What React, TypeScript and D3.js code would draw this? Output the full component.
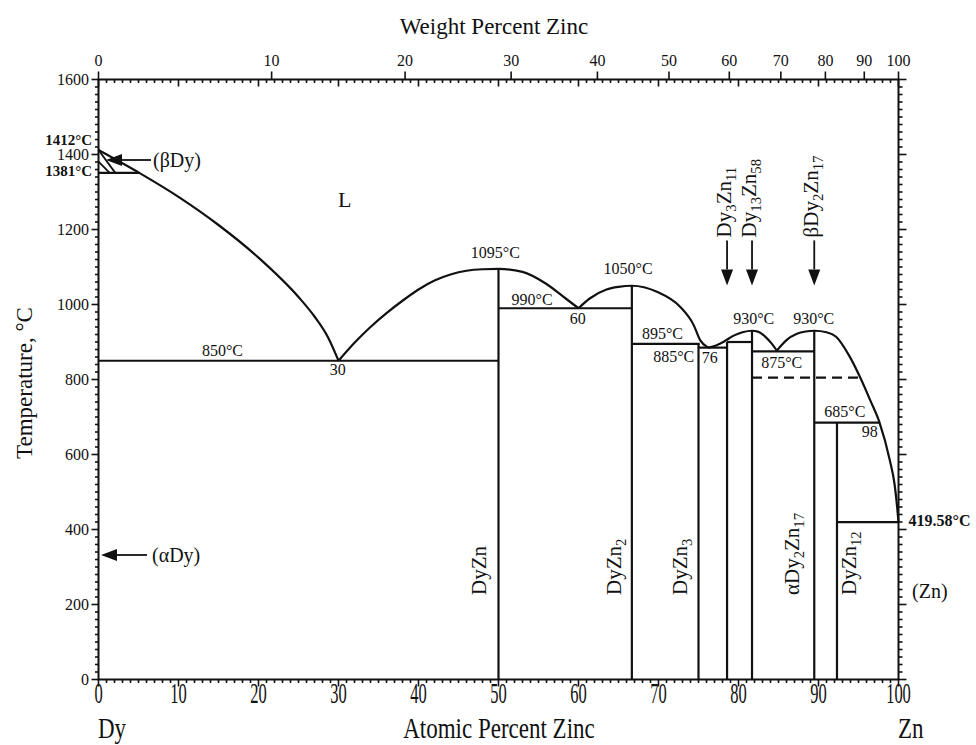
import React, { useEffect, useRef } from "react";
import * as d3 from "d3";

const W = 976;
const H = 745;
const FONT = "'Liberation Serif', 'Times New Roman', serif";

// liquidus pieces, [at.% Zn, °C]
const liqDy = [[0, 1412], [5.1, 1351], [10, 1287], [15, 1212], [20, 1125], [25, 1020], [27, 968], [28.7, 912], [30, 850]];
const liqDyZn = [[30, 850], [32, 898], [34, 940], [36, 977], [38, 1010], [40, 1040], [42, 1064], [44, 1080], [46, 1090], [48, 1094], [50, 1095], [53, 1087], [55.9, 1056], [58.4, 1016], [60, 990]];
const liqDyZn2 = [[60, 990], [61.4, 1016], [63.5, 1040], [65, 1047], [66.67, 1050], [69.8, 1034], [72.7, 994], [74.4, 945], [75.2, 905], [76.2, 885]];
const liqDy13 = [[76.2, 885], [77, 889], [78.1, 900], [79.4, 917], [80.5, 926], [81.69, 930], [82.5, 927], [83.3, 915], [84.1, 897], [84.8, 877]];
const liqDy2 = [[84.8, 877], [85.4, 892], [86, 905], [87.3, 922], [88.4, 928], [89.47, 930], [91, 926], [92.2, 914], [93.9, 861], [95.2, 806], [96.5, 743], [97.6, 687], [98.9, 586], [99.5, 522], [99.85, 455], [100, 419.58]];
const liquidus = [liqDy, liqDyZn, liqDyZn2, liqDy13, liqDy2];

// beta Dy field
const betaDy = [[[0, 1412], [2.1, 1351]], [[0, 1381], [1.4, 1351]]];

// invariant lines [°C, from, to]
const invariants = [[1351, 0, 5.1], [850, 0, 50], [990, 50, 66.67], [895, 66.67, 75.15], [885, 75, 78.57], [900, 78.57, 81.69], [875, 81.69, 89.47], [685, 89.47, 97.6], [419.58, 92.31, 100]];
const dashed = [[805, 81.69, 95.2]];

// compounds [at.% Zn, top °C]
const compoundAt = [50, 66.67, 75, 78.57, 81.69, 89.47, 92.31];
const compoundTop = [1095, 1050, 895, 900, 930, 930, 685];

// labels along lines: [text, at%, °C]
const tempLabels = [
  ["850°C", 15.5, 864], ["30", 29.9, 812], ["1095°C", 49.6, 1124], ["990°C", 54.2, 999],
  ["60", 59.9, 948], ["1050°C", 66.2, 1081], ["895°C", 70.5, 907], ["885°C", 71.9, 847],
  ["76", 76.4, 845], ["930°C", 81.9, 948], ["930°C", 89.4, 948], ["875°C", 85.4, 830],
  ["685°C", 93.3, 700], ["98", 96.4, 647],
];

// rotated phase names
const phaseNames = [
  { parts: [["DyZn", 0]], at: 50, dx: -13 },
  { parts: [["DyZn", 0], ["2", 1]], at: 66.67, dx: -11 },
  { parts: [["DyZn", 0], ["3", 1]], at: 75, dx: -12 },
  { parts: [["αDy", 0], ["2", 1], ["Zn", 0], ["17", 1]], at: 89.47, dx: -15 },
  { parts: [["DyZn", 0], ["12", 1]], at: 92.31, dx: 19 },
];
const arrowNames = [
  { parts: [["Dy", 0], ["3", 1], ["Zn", 0], ["11", 1]], at: 78.57 },
  { parts: [["Dy", 0], ["13", 1], ["Zn", 0], ["58", 1]], at: 81.69 },
  { parts: [["βDy", 0], ["2", 1], ["Zn", 0], ["17", 1]], at: 89.47 },
];

const atTicks = d3.range(0, 101, 1);
const wtTicks = d3.range(0, 101, 10);
const tTicks = d3.range(0, 1601, 20);

// weight % -> atomic %
const wtToAt = (w: number) => {
  const zn = w / 65.38;
  const dy = (100 - w) / 162.5;
  return (100 * zn) / (zn + dy);
};

export default function App() {
  const svgRef = useRef<SVGSVGElement>(null);

  useEffect(() => {
    const svg = d3.select(svgRef.current);
    svg.selectAll("*").remove();

    const x = d3.scaleLinear().domain([0, 100]).range([98.5, 898.5]);
    const y = d3.scaleLinear().domain([0, 1600]).range([679.5, 79.5]);
    const x0 = x(0), x1 = x(100), y0 = y(0), y1 = y(1600);

    const g = svg.append("g").attr("font-family", FONT).attr("fill", "#111");

    const line = d3.line<number[]>().x((d) => x(d[0])).y((d) => y(d[1]));
    const curve = d3.line<number[]>().x((d) => x(d[0])).y((d) => y(d[1])).curve(d3.curveMonotoneX);

    // frame
    g.append("rect").attr("x", x0).attr("y", y1).attr("width", x1 - x0).attr("height", y0 - y1)
      .attr("fill", "none").attr("stroke", "#111").attr("stroke-width", 2);

    // ticks
    const tk = g.append("g").attr("stroke", "#111").attr("stroke-width", 1.6);
    atTicks.forEach((a) => {
      const len = a % 10 === 0 ? 7 : 3.5;
      tk.append("line").attr("x1", x(a)).attr("x2", x(a)).attr("y1", y0).attr("y2", y0 + len);
      tk.append("line").attr("x1", x(a)).attr("x2", x(a)).attr("y1", y1).attr("y2", y1 + len);
    });
    wtTicks.forEach((w) => {
      tk.append("line").attr("x1", x(wtToAt(w))).attr("x2", x(wtToAt(w))).attr("y1", y1).attr("y2", y1 - 8);
    });
    tTicks.forEach((t) => {
      const major = t % 200 === 0;
      tk.append("line").attr("x1", x0).attr("x2", x0 - (major ? 7 : 3.5)).attr("y1", y(t)).attr("y2", y(t));
      tk.append("line").attr("x1", x1).attr("x2", x1 + (major ? 8 : 4)).attr("y1", y(t)).attr("y2", y(t));
    });

    // tick labels
    atTicks.filter((a) => a % 10 === 0).forEach((a) => {
      g.append("text").attr("transform", `translate(${x(a)},703) scale(1,1.75)`)
        .attr("text-anchor", "middle").attr("font-size", 16.5).text(a);
    });
    wtTicks.forEach((w) => {
      g.append("text").attr("x", x(wtToAt(w))).attr("y", 66).attr("text-anchor", "middle")
        .attr("font-size", 16).text(w);
    });
    tTicks.filter((t) => t % 200 === 0).forEach((t) => {
      g.append("text").attr("x", 89).attr("y", y(t)).attr("dy", "0.35em").attr("text-anchor", "end")
        .attr("font-size", 16).text(t);
    });

    // axis titles
    g.append("text").attr("x", 494).attr("y", 34).attr("text-anchor", "middle").attr("font-size", 23).text("Weight Percent Zinc");
    g.append("text").attr("transform", "translate(499,738) scale(1,1.3)").attr("text-anchor", "middle").attr("font-size", 23).text("Atomic Percent Zinc");
    g.append("text").attr("transform", "translate(98,738) scale(1,1.3)").attr("font-size", 23).text("Dy");
    g.append("text").attr("transform", "translate(898,738) scale(1,1.3)").attr("font-size", 23).text("Zn");
    g.append("text").attr("transform", "translate(32,383) rotate(-90)").attr("text-anchor", "middle").attr("font-size", 23).text("Temperature, °C");

    // phase lines
    const pl = g.append("g").attr("fill", "none").attr("stroke", "#111").attr("stroke-width", 2.2);
    liquidus.forEach((seg) => pl.append("path").attr("d", curve(seg)));
    betaDy.forEach((seg) => pl.append("path").attr("d", line(seg)).attr("stroke-width", 1.8));
    invariants.forEach(([t, a, b]) => pl.append("path").attr("d", line([[a, t], [b, t]])));
    dashed.forEach(([t, a, b]) => pl.append("path").attr("d", line([[a, t], [b, t]])).attr("stroke-dasharray", "10,6"));
    compoundAt.forEach((a, i) => pl.append("path").attr("d", line([[a, 0], [a, compoundTop[i]]])));

    // labels
    tempLabels.forEach(([s, a, t]) => {
      g.append("text").attr("x", x(a as number)).attr("y", y(t as number)).attr("text-anchor", "middle")
        .attr("font-size", 16).text(s as string);
    });
    g.append("text").attr("x", 92).attr("y", 145).attr("text-anchor", "end").attr("font-size", 15).attr("font-weight", "bold").text("1412°C");
    g.append("text").attr("x", 92).attr("y", 176).attr("text-anchor", "end").attr("font-size", 15).attr("font-weight", "bold").text("1381°C");
    g.append("text").attr("x", x(100) + 10).attr("y", 526).attr("font-size", 16).attr("font-weight", "bold").text("419.58°C");
    g.append("text").attr("x", 338).attr("y", 207).attr("font-size", 22).text("L");
    g.append("text").attr("x", 153).attr("y", 167).attr("font-size", 20).text("(βDy)");
    g.append("text").attr("x", 152).attr("y", 562).attr("font-size", 20).text("(αDy)");
    g.append("text").attr("x", 912).attr("y", 598).attr("font-size", 20).text("(Zn)");

    // arrows
    const arrow = (tipX: number, tipY: number, fromX: number, fromY: number) => {
      const ang = Math.atan2(fromY - tipY, fromX - tipX);
      const L = 16, hw = 6;
      const bx = tipX + L * Math.cos(ang), by = tipY + L * Math.sin(ang);
      const px = -Math.sin(ang) * hw, py = Math.cos(ang) * hw;
      g.append("line").attr("x1", fromX).attr("y1", fromY).attr("x2", bx).attr("y2", by)
        .attr("stroke", "#111").attr("stroke-width", 1.8);
      g.append("path").attr("d", `M${tipX},${tipY}L${bx + px},${by + py}L${bx - px},${by - py}Z`).attr("fill", "#111");
    };
    arrow(106, 160, 151, 160);
    arrow(101, 555, 147, 555);

    const rotText = (parts: (string | number)[][], px: number, py: number, size: number) => {
      const t = g.append("text").attr("transform", `translate(${px},${py}) rotate(-90)`).attr("font-size", size);
      let sub = false;
      parts.forEach(([s, isSub]) => {
        const ts = t.append("tspan").text(s as string);
        if (isSub && !sub) ts.attr("dy", 5);
        if (!isSub && sub) ts.attr("dy", -5);
        if (isSub) ts.attr("font-size", size * 0.7);
        sub = !!isSub;
      });
    };
    phaseNames.forEach((p) => rotText(p.parts, x(p.at) + p.dx, 595, 21));
    arrowNames.forEach((p) => {
      rotText(p.parts, x(p.at) + 4, y(1179), 21);
      arrow(x(p.at), y(1051), x(p.at), y(1171));
    });
  }, []);

  return (
    <svg ref={svgRef} width={W} height={H} style={{ position: "absolute", left: 0, top: 0, background: "#fff" }} />
  );
}
